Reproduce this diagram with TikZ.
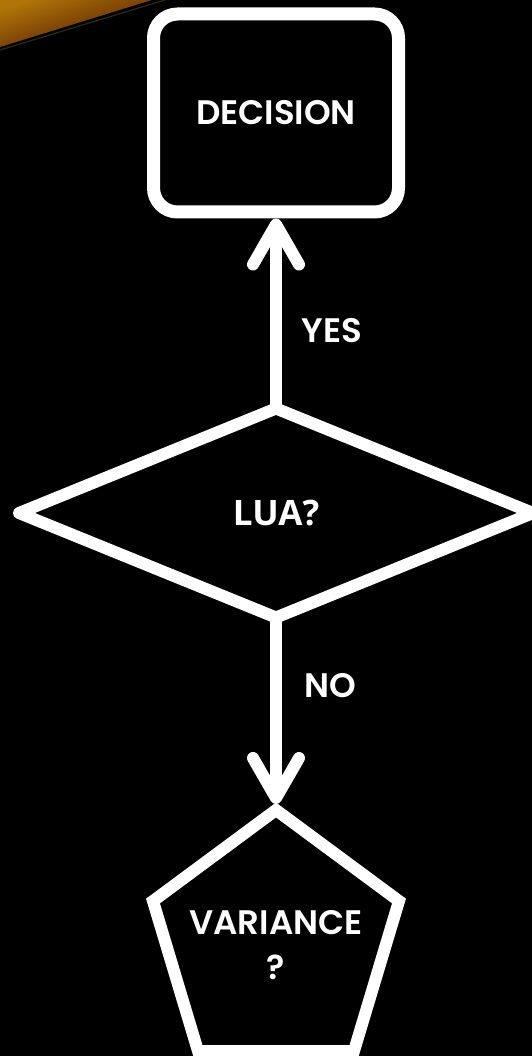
\documentclass[tikz,border=0pt]{standalone}
\usepackage{fontspec}
\setmainfont{Poppins}[BoldFont={Poppins SemiBold}]
\newfontfamily\luafont{Open Sans}
\usetikzlibrary{shapes.geometric,arrows.meta}
\definecolor{streakA}{HTML}{B07408}
\definecolor{streakB}{HTML}{4A1200}
\definecolor{streakLine}{HTML}{2C2C12}
\begin{document}
\begin{tikzpicture}[x=1pt,y=-1pt,
  every node/.style={text=white},
  lbl/.style={font=\fontsize{34}{45}\selectfont\bfseries},
  shapeline/.style={draw=white,line width=12pt},
  conn/.style={draw=white,line width=12pt,-{Straight Barb[length=40pt,width=46pt,round]}},
]
\fill[black] (0,0) rectangle (532,1056);
\useasboundingbox (0,0) rectangle (532,1056);
% top-left streak
\shade[top color=streakA, bottom color=streakB, shading angle=18] (0,0) -- (152,0) -- (0,47) -- cycle;
\draw[streakLine, line width=1.2pt] (0,50) -- (165,0);
% decision box
\node[shapeline, line width=13pt, rounded corners=24pt, minimum width=245pt, minimum height=198pt, fill=black, lbl] (dec) at (276,113) {DECISION};
% diamond
\node[diamond, aspect=2.46, minimum width=514pt, minimum height=209pt, inner sep=0pt, outer sep=0pt, shapeline, line join=round, fill=black, font=\luafont\fontsize{35}{40}\selectfont\bfseries] (lua) at (276,513) {LUA?};
% pentagon
\draw[shapeline, miter limit=10] (276,810) -- (399,901) -- (354,1051) -- (198,1051) -- (153,901) -- cycle;
\coordinate (vartop) at (276,804);
\node[lbl, align=center] (var) at (276,945) {VARIANCE\\?};
% connectors
\draw[conn] (lua.north) -- (dec.south);
\draw[conn] (lua.south) -- (vartop);
\node[lbl] (yes) at (332,331) {YES};
\node[lbl] (no) at (330,686) {NO};
\end{tikzpicture}
\end{document}
